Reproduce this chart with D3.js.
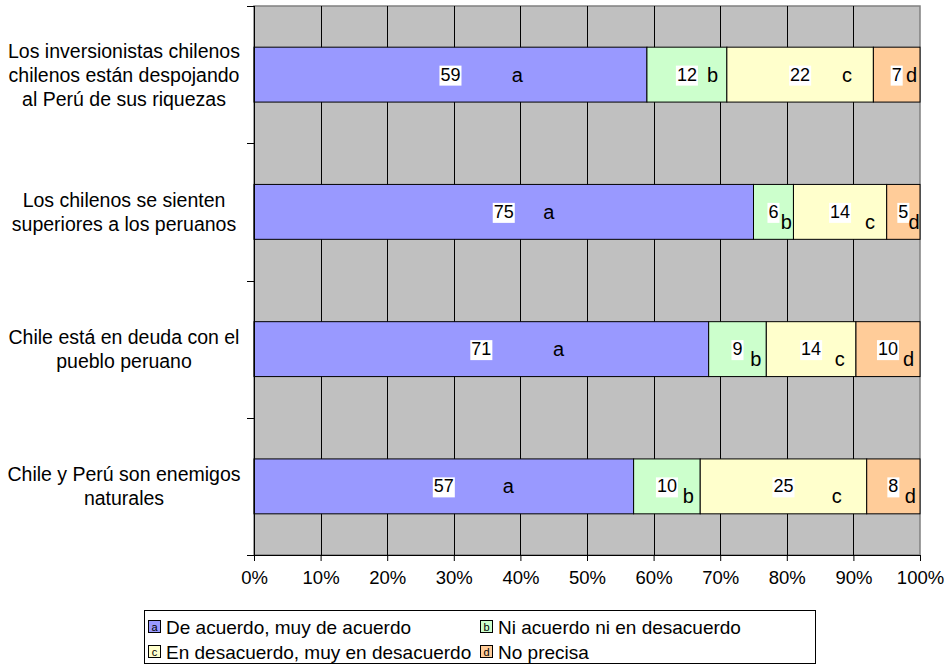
<!DOCTYPE html>
<html>
<head>
<meta charset="utf-8"/>
<title>Chile - Perú</title>
<script src="https://d3js.org/d3.v7.min.js"></script>
<style>
	body { margin: 0; background: #fff; }
	text { font-family: "Liberation Sans", Arial, sans-serif; fill: #000; }
</style>
</head>
<body>
<script>

// categories (top to bottom), each split into lines
var categories = [
	["Los inversionistas chilenos", "chilenos están despojando", "al Perú de sus riquezas"],
	["Los chilenos se sienten", "superiores a los peruanos"],
	["Chile está en deuda con el", "pueblo peruano"],
	["Chile y Perú son enemigos", "naturales"]
];

// series values, one per category
var deAcuerdo    = [59, 75, 71, 57];
var niAcuerdo    = [12, 6, 9, 10];
var enDesacuerdo = [22, 14, 14, 25];
var noPrecisa    = [7, 5, 10, 8];

var seriesNames = ["De acuerdo, muy de acuerdo", "Ni acuerdo ni en desacuerdo",
	"En desacuerdo, muy en desacuerdo", "No precisa"];
var seriesLetters = ["a", "b", "c", "d"];
var seriesColors = ["#9999FF", "#CCFFCC", "#FFFFCC", "#FFCC99"];

var xTicks = [0, 0.1, 0.2, 0.3, 0.4, 0.5, 0.6, 0.7, 0.8, 0.9, 1];

var w = 948, h = 665;
var pLeft = 254, pRight = 920, pTop = 6, pBottom = 555;

var svg = d3.select("body").append("svg")
	.attr("width", w)
	.attr("height", h);

var keys = ["a", "b", "c", "d"];
var rows = categories.map(function(c, i) {
	return { i: i, a: deAcuerdo[i], b: niAcuerdo[i], c: enDesacuerdo[i], d: noPrecisa[i] };
});
// 100% stacked: normalise each row
var stack = d3.stack().keys(keys).offset(d3.stackOffsetExpand);
var series = stack(rows);

var x = d3.scaleLinear().domain([0, 1]).range([pLeft, pRight]);
var y = d3.scaleBand().domain(d3.range(categories.length)).range([pTop, pBottom]).paddingInner(0.6).paddingOuter(0.3);
var yOuter = d3.scaleBand().domain(d3.range(categories.length)).range([pTop, pBottom]);

// plot background
svg.append("rect")
	.attr("x", pLeft).attr("y", pTop)
	.attr("width", pRight - pLeft).attr("height", pBottom - pTop)
	.attr("fill", "#C0C0C0")
	.attr("stroke", "#808080")
	.attr("stroke-width", 1.5);

// vertical gridlines
svg.selectAll("line.grid")
	.data(xTicks.slice(1, -1))
	.enter().append("line")
	.attr("class", "grid")
	.attr("x1", function(d) { return Math.round(x(d)) + 0.5; })
	.attr("x2", function(d) { return Math.round(x(d)) + 0.5; })
	.attr("y1", pTop).attr("y2", pBottom)
	.attr("stroke", "#000")
	.attr("stroke-width", 1);

// bars
var groups = svg.selectAll("g.series")
	.data(series)
	.enter().append("g")
	.attr("class", "series")
	.attr("fill", function(d, k) { return seriesColors[k]; });

groups.selectAll("rect")
	.data(function(d) { return d; })
	.enter().append("rect")
	.attr("x", function(d) { return x(d[0]); })
	.attr("width", function(d) { return x(d[1]) - x(d[0]); })
	.attr("y", function(d, i) { return y(i); })
	.attr("height", y.bandwidth())
	.attr("stroke", "#000")
	.attr("stroke-width", 1);

// value labels with white boxes, and series letters
series.forEach(function(s, k) {
	s.forEach(function(d, i) {
		var x0 = x(d[0]), x1 = x(d[1]);
		var cx = (x0 + x1) / 2;
		var cy = y(i) + y.bandwidth() / 2;
		var val = d.data[keys[k]];
		var g = svg.append("g");
		var t = g.append("text")
			.attr("x", cx)
			.attr("y", cy + 6)
			.attr("text-anchor", "middle")
			.style("font-size", "18px")
			.text(val);
		var bb = t.node().getBBox();
		g.insert("rect", "text")
			.attr("x", bb.x - 1).attr("y", bb.y + 1)
			.attr("width", bb.width + 2).attr("height", bb.height)
			.attr("fill", "#fff");

		// letter position
		var frac = k === 0 ? (i === 1 ? 0.59 : 0.67) : 0.82;
		var ly = cy + 7;
		if (i > 0 && k > 0) ly = cy + 17;
		svg.append("text")
			.attr("x", x0 + (x1 - x0) * frac)
			.attr("y", ly)
			.attr("text-anchor", "middle")
			.style("font-size", "20px")
			.text(seriesLetters[k]);
	});
});

// x axis
var xAxis = d3.axisBottom(x)
	.tickValues(xTicks)
	.tickFormat(d3.format(".0%"))
	.tickSize(6)
	.tickPadding(10);
var gx = svg.append("g")
	.attr("transform", "translate(0," + pBottom + ")")
	.call(xAxis);
gx.select(".domain").attr("stroke", "#000");
gx.selectAll(".tick line").attr("stroke", "#000");
gx.selectAll(".tick text")
	.style("font-size", "18.5px")
	.style("font-family", "'Liberation Sans', Arial, sans-serif")
	.attr("fill", "#000");

// y axis line and ticks at category boundaries
svg.append("line")
	.attr("x1", pLeft + 0.5).attr("x2", pLeft + 0.5)
	.attr("y1", pTop).attr("y2", pBottom)
	.attr("stroke", "#000");
var bounds = d3.range(categories.length + 1).map(function(i) {
	return i < categories.length ? yOuter(i) : pBottom;
});
svg.selectAll("line.ytick")
	.data(bounds)
	.enter().append("line")
	.attr("class", "ytick")
	.attr("x1", pLeft - 7).attr("x2", pLeft)
	.attr("y1", function(d) { return Math.round(d) + 0.5; })
	.attr("y2", function(d) { return Math.round(d) + 0.5; })
	.attr("stroke", "#000");

// category labels
categories.forEach(function(lines, i) {
	var cy = yOuter(i) + yOuter.bandwidth() / 2;
	var lh = 24;
	var t = svg.append("text")
		.attr("text-anchor", "middle")
		.style("font-size", "19.5px");
	lines.forEach(function(l, j) {
		t.append("tspan")
			.attr("x", 124)
			.attr("y", cy + (j - (lines.length - 1) / 2) * lh + 7)
			.text(l);
	});
});

// legend
var lg = svg.append("g");
lg.append("rect")
	.attr("x", 144.5).attr("y", 610.5)
	.attr("width", 671).attr("height", 53)
	.attr("fill", "#fff")
	.attr("stroke", "#000");
var legendPos = [[148, 627], [480, 627], [148, 652], [480, 652]];
seriesNames.forEach(function(name, k) {
	var p = legendPos[k];
	var item = lg.append("g").attr("transform", "translate(" + p[0] + "," + p[1] + ")");
	item.append("rect")
		.attr("x", 0.5).attr("y", -6.5)
		.attr("width", 12).attr("height", 12)
		.attr("fill", seriesColors[k])
		.attr("stroke", "#000");
	item.append("text")
		.attr("x", 6.5).attr("y", 4)
		.attr("text-anchor", "middle")
		.style("font-size", "11px")
		.text(seriesLetters[k]);
	item.append("text")
		.attr("x", 18).attr("y", 7)
		.style("font-size", "19px")
		.text(name);
});

</script>
</body>
</html>
